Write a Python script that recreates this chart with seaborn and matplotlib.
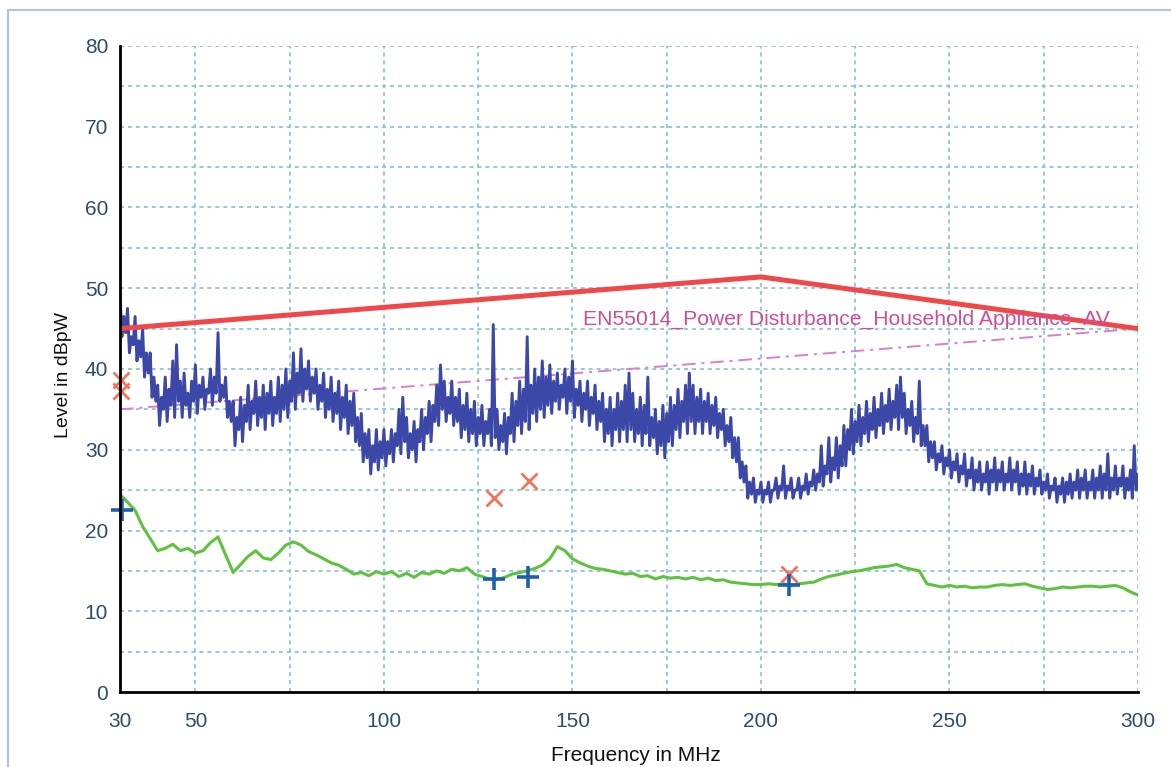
import numpy as np
import pandas as pd
import matplotlib
matplotlib.use("Agg")
import matplotlib.pyplot as plt
import seaborn as sns
from matplotlib.patches import Rectangle
from matplotlib.ticker import FixedLocator

# ---------------- data ----------------
# Peak scan (blue): local maxima read at 30, 31, ..., 300 MHz
blue_peak = [
    49.5, 46.5, 47.5, 44.0, 46.5, 43.5, 45.0, 42.0, 42.0, 39.0,
    38.0, 36.5, 39.0, 37.5, 41.0, 43.0, 38.5, 39.5, 37.0, 38.5,
    40.5, 38.0, 39.0, 37.5, 40.0, 39.0, 44.5, 38.0, 39.0, 36.0,
    36.0, 34.0, 36.5, 35.5, 38.0, 36.0, 38.5, 36.5, 38.0, 37.0,
    38.5, 36.5, 39.0, 38.0, 40.0, 38.5, 42.0, 39.5, 42.5, 40.0,
    41.0, 39.0, 40.0, 38.0, 39.5, 37.5, 39.0, 37.0, 38.5, 36.5,
    38.0, 36.0, 37.0, 34.0, 34.5, 32.0, 32.5, 30.5, 32.5, 31.0,
    32.5, 31.0, 32.5, 32.0, 35.0, 36.5, 34.0, 32.0, 33.5, 32.5,
    35.0, 34.0, 36.0, 35.5, 38.0, 40.5, 38.5, 36.5, 38.5, 36.5,
    37.5, 35.5, 37.0, 35.0, 36.0, 34.0, 35.5, 33.5, 35.0, 45.5,
    35.0, 33.0, 34.5, 34.0, 37.0, 36.0, 38.5, 37.5, 44.0, 38.0,
    40.0, 39.0, 41.0, 39.0, 40.5, 38.5, 39.5, 38.0, 40.0, 39.0,
    41.0, 37.5, 38.5, 37.0, 38.5, 36.5, 38.0, 36.0, 37.0, 35.0,
    36.5, 35.0, 37.0, 36.0, 38.0, 39.5, 37.0, 35.0, 36.5, 35.5,
    39.0, 34.0, 35.0, 33.5, 35.5, 34.5, 36.5, 35.5, 37.5, 36.0,
    38.0, 39.5, 38.0, 36.5, 37.5, 36.0, 37.0, 35.5, 36.5, 34.5,
    35.0, 33.0, 34.0, 31.5, 31.5, 28.5, 28.0, 26.0, 26.5, 25.0,
    26.0, 25.0, 26.0, 25.0, 26.5, 25.5, 28.0, 25.5, 26.5, 25.0,
    26.5, 25.5, 27.0, 26.0, 27.5, 27.0, 30.5, 28.0, 31.5, 29.0,
    31.5, 30.5, 33.0, 32.5, 35.0, 33.5, 35.5, 34.0, 36.0, 34.5,
    36.5, 35.0, 37.0, 35.5, 37.5, 36.0, 38.0, 39.0, 37.0, 35.0,
    36.0, 34.0, 38.5, 33.0, 33.0, 31.0, 31.0, 29.5, 30.5, 29.0,
    30.0, 28.5, 29.5, 28.0, 29.5, 27.5, 29.0, 27.5, 28.5, 27.0,
    28.5, 27.5, 29.0, 27.5, 28.5, 27.0, 29.0, 27.5, 28.5, 27.0,
    28.5, 27.0, 28.0, 26.5, 27.5, 26.0, 27.0, 25.5, 26.5, 25.5,
    26.5, 26.0, 27.0, 26.0, 27.5, 26.5, 27.5, 26.0, 27.5, 26.5,
    28.0, 27.0, 29.5, 26.5, 28.0, 26.5, 28.0, 26.5, 27.5, 30.5,
    27.0,
]
# Peak scan (blue): local minima read at 30.5, 31.5, ..., 299.5 MHz
blue_floor = [
    44.0, 44.5, 42.0, 43.0, 41.0, 41.5, 39.0, 39.5, 36.5, 36.0,
    33.0, 35.0, 33.5, 35.5, 34.0, 36.0, 34.0, 35.5, 34.0, 36.0,
    34.5, 36.5, 35.0, 37.0, 35.5, 37.0, 36.0, 36.5, 34.0, 33.5,
    30.5, 32.5, 31.0, 33.5, 32.5, 34.5, 33.0, 34.0, 32.5, 34.5,
    33.0, 34.5, 33.5, 35.0, 34.0, 36.0, 35.0, 37.0, 36.0, 37.5,
    36.0, 37.0, 35.0, 36.0, 34.0, 35.0, 33.5, 34.5, 32.5, 34.0,
    32.0, 33.0, 31.0, 30.5, 28.5, 29.0, 27.0, 28.5, 27.5, 29.0,
    28.0, 29.5, 28.5, 30.5, 29.5, 31.0, 29.0, 30.0, 28.5, 31.0,
    30.0, 32.0, 31.0, 33.5, 33.0, 35.0, 33.5, 34.5, 33.0, 33.5,
    31.5, 32.5, 31.0, 32.0, 30.5, 32.0, 30.5, 32.0, 30.5, 31.5,
    30.0, 31.0, 29.5, 32.0, 31.0, 33.0, 32.0, 33.5, 32.5, 34.5,
    33.5, 35.0, 34.0, 35.5, 34.5, 36.0, 35.0, 36.5, 34.5, 36.0,
    34.0, 35.5, 33.5, 35.0, 33.0, 34.5, 32.5, 33.5, 31.0, 32.0,
    30.5, 32.5, 31.0, 32.5, 31.0, 32.5, 31.0, 32.0, 30.5, 32.0,
    30.5, 31.5, 29.5, 30.5, 29.0, 31.0, 30.5, 32.5, 31.5, 33.5,
    32.0, 33.5, 32.0, 33.5, 32.0, 33.5, 32.0, 33.0, 31.5, 32.5,
    30.5, 31.0, 29.0, 28.5, 26.5, 26.0, 24.0, 24.5, 23.5, 24.5,
    23.5, 24.5, 23.5, 25.0, 24.0, 25.0, 24.0, 25.0, 24.0, 25.0,
    24.0, 25.0, 24.5, 25.5, 25.0, 26.0, 25.5, 27.0, 26.0, 27.5,
    26.5, 28.0, 28.0, 30.0, 29.5, 31.0, 30.5, 32.0, 31.0, 32.5,
    31.5, 33.0, 32.0, 33.5, 32.5, 34.0, 32.5, 34.0, 32.0, 33.0,
    31.0, 32.0, 30.5, 30.5, 28.5, 29.0, 27.5, 28.5, 27.0, 28.0,
    26.5, 27.5, 26.0, 27.0, 25.5, 26.5, 25.0, 26.0, 25.0, 26.0,
    24.5, 26.0, 25.0, 26.0, 25.0, 26.0, 25.0, 26.0, 24.5, 25.5,
    24.5, 25.5, 24.5, 25.5, 24.5, 25.0, 24.0, 25.0, 23.5, 24.5,
    23.5, 24.5, 24.0, 25.0, 24.0, 25.0, 24.0, 25.0, 24.0, 25.0,
    24.0, 25.0, 24.0, 25.0, 24.5, 25.5, 24.0, 25.0, 24.0, 25.0,
]

# Average scan (green), 2 MHz steps 30..300 MHz
green_level = [
    24.5, 23.5, 22.5, 20.5, 19.0, 17.5, 17.8, 18.3, 17.5, 17.8,
    17.2, 17.5, 18.5, 19.2, 17.0, 14.8, 15.8, 16.8, 17.5, 16.6,
    16.4, 17.2, 18.2, 18.6, 18.2, 17.4, 17.0, 16.5, 16.0, 15.7,
    15.2, 14.6, 14.8, 14.4, 14.9, 14.6, 14.9, 14.3, 14.7, 14.2,
    14.8, 14.6, 15.0, 14.7, 15.2, 15.0, 15.4, 14.6, 14.3, 14.0,
    13.9, 14.2, 14.6, 14.8, 15.0, 15.3, 15.7, 16.5, 18.0, 17.5,
    16.5, 16.0, 15.6, 15.3, 15.2, 15.0, 14.8, 14.6, 14.7, 14.3,
    14.4, 14.0, 14.3, 14.1, 14.2, 14.0, 14.2, 13.9, 14.1, 13.8,
    13.9, 13.6, 13.5, 13.4, 13.3, 13.3, 13.4, 13.3, 13.4, 13.2,
    13.4, 13.5, 13.6, 14.0, 14.3, 14.5, 14.7, 14.9, 15.0, 15.2,
    15.4, 15.5, 15.6, 15.8, 15.4, 15.2, 15.0, 13.4, 13.2, 13.0,
    13.2, 13.0, 13.1, 12.9, 13.0, 13.0, 13.2, 13.3, 13.2, 13.3,
    13.4, 13.1, 12.9, 12.7, 12.8, 13.0, 12.9, 13.0, 13.1, 13.1,
    13.0, 13.1, 13.2, 12.9, 12.4, 12.0,
]

# Limit lines
qp_limit_freq = [30, 200, 300]
qp_limit_level = [45.0, 51.4, 45.0]
av_limit_freq = [30, 300]
av_limit_level = [35.0, 45.0]
av_limit_label = "EN55014_Power Disturbance_Household Appliance_AV"

# Final measurement points
qp_final_freq = [30.3, 30.3, 129.2, 138.5, 207.5]
qp_final_level = [38.6, 37.3, 24.0, 26.1, 14.6]
av_final_freq = [30.4, 129.2, 138.3, 207.5]
av_final_level = [22.6, 14.0, 14.2, 13.2]

x_major = [30, 50, 100, 150, 200, 250, 300]
x_minor = [75, 125, 175, 225, 275]
y_major = [0, 10, 20, 30, 40, 50, 60, 70, 80]
y_minor = [5, 15, 25, 35, 45, 55, 65, 75]

# ---------------- frames ----------------
peak_df = pd.DataFrame({"freq": 30.0 + np.arange(len(blue_peak)), "level": blue_peak})
floor_df = pd.DataFrame({"freq": 30.5 + np.arange(len(blue_floor)), "level": blue_floor})
blue_df = pd.concat([peak_df, floor_df]).sort_values("freq").reset_index(drop=True)
green_df = pd.DataFrame({
    "freq": 30.0 + np.arange(len(green_level)) * 2.0,
    "level": green_level,
})
qp_df = pd.DataFrame({"freq": qp_limit_freq, "level": qp_limit_level})
av_df = pd.DataFrame({"freq": av_limit_freq, "level": av_limit_level})

# ---------------- style ----------------
sns.set_theme(style="white")
plt.rcParams["font.family"] = ["Liberation Sans", "DejaVu Sans"]

W, H = 1171, 767
fig = plt.figure(figsize=(W / 100, H / 100), dpi=100)
ax = fig.add_axes([120 / W, 1 - 692 / H, (1138 - 120) / W, (692 - 46) / H])

grid_color = "#8fc3dc"
ax.set_xlim(30, 300)
ax.set_ylim(0, 80)
ax.xaxis.set_major_locator(FixedLocator(x_major))
ax.xaxis.set_minor_locator(FixedLocator(x_minor))
ax.yaxis.set_major_locator(FixedLocator(y_major))
ax.yaxis.set_minor_locator(FixedLocator(y_minor))
ax.grid(True, which="both", color=grid_color, linestyle=(0, (2.2, 2.2)), linewidth=1.3)
ax.set_axisbelow(True)

# traces
sns.lineplot(data=av_df, x="freq", y="level", ax=ax, color="#d77fcf",
             linewidth=1.4, linestyle=(0, (7, 3, 1.5, 3)), estimator=None, zorder=2)
sns.lineplot(data=blue_df, x="freq", y="level", ax=ax, color="#3b48a8",
             linewidth=2.1, estimator=None, sort=False, zorder=3)
sns.lineplot(data=green_df, x="freq", y="level", ax=ax, color="#5fc23f",
             linewidth=2.2, estimator=None, sort=False, zorder=3)
sns.lineplot(data=qp_df, x="freq", y="level", ax=ax, color="#f04848",
             linewidth=3.6, estimator=None, zorder=4)

ax.plot(qp_final_freq, qp_final_level, linestyle="none", marker="x",
        markersize=11, markeredgewidth=2.0, color="#f2745a", zorder=5, clip_on=False)
ax.plot(av_final_freq, av_final_level, linestyle="none", marker="+",
        markersize=16, markeredgewidth=2.6, color="#1f5fb0", zorder=6, clip_on=False)

ax.text(152.8, 46.2, av_limit_label, color="#cc4f98", fontsize=15.2,
        ha="left", va="center", zorder=6)

# spines / ticks
for s in ["top", "right"]:
    ax.spines[s].set_visible(False)
for s in ["left", "bottom"]:
    ax.spines[s].set_color("black")
    ax.spines[s].set_linewidth(2.0)
    ax.spines[s].set_zorder(7)

tick_color = "#2b4d6e"
ax.tick_params(axis="both", which="both", direction="inout", length=11,
               width=1.6, color="black", labelcolor=tick_color, labelsize=15)
ax.tick_params(axis="x", which="major", pad=9)
ax.tick_params(axis="y", which="major", pad=3)
ax.tick_params(axis="both", which="minor", labelbottom=False, labelleft=False)

ax.set_xlabel("Frequency in MHz", fontsize=15, color="#111111")
ax.xaxis.set_label_coords(0.507, -0.083)
ax.set_ylabel("Level in dBpW", fontsize=14, color="#111111")
ax.yaxis.set_label_coords(-0.047, 0.49)

# outer frame of the original window
fig.add_artist(Rectangle((8 / W, -0.05), 1.2, 1 - 10 / H + 0.05,
                         transform=fig.transFigure, fill=False,
                         edgecolor="#b3c6d4", linewidth=1.6))

fig.savefig("out.png", dpi=100)
